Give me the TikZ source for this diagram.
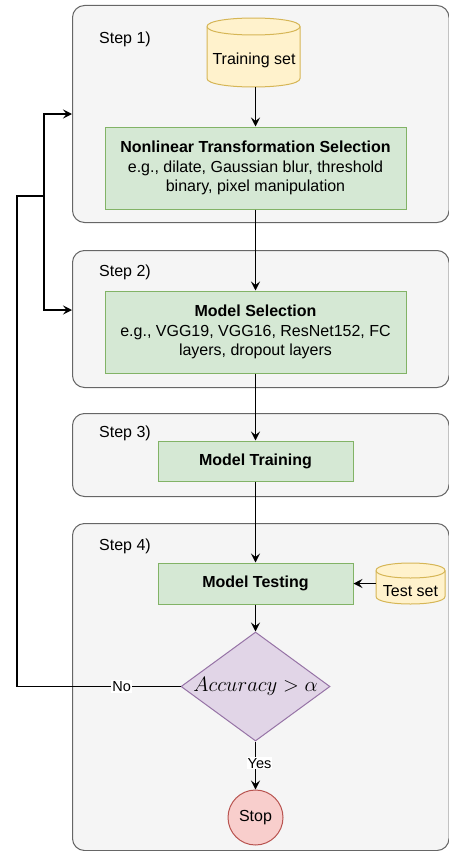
\documentclass[tikz,border=0pt]{standalone}
\usepackage{fontspec}
\setmainfont{Liberation Sans}
\usetikzlibrary{shapes.geometric,arrows.meta}
\definecolor{contfill}{HTML}{F5F5F5}
\definecolor{contdraw}{HTML}{666666}
\definecolor{gfill}{HTML}{D5E8D4}
\definecolor{gdraw}{HTML}{82B366}
\definecolor{yfill}{HTML}{FFF2CC}
\definecolor{ydraw}{HTML}{D6B656}
\definecolor{pfill}{HTML}{E1D5E7}
\definecolor{pdraw}{HTML}{9673A6}
\definecolor{rfill}{HTML}{F8CECC}
\definecolor{rdraw}{HTML}{B85450}
% cylinder: left, top, right, bottom, ry
\newcommand\dbcyl[5]{%
  \path[fill=yfill,draw=ydraw,line width=1pt]
    (#1,{#2+#5}) -- (#1,{#4-#5})
    .. controls (#1,{#4-#5+1.333*#5}) and (#3,{#4-#5+1.333*#5}) .. (#3,{#4-#5})
    -- (#3,{#2+#5})
    .. controls (#3,{#2+#5-1.333*#5}) and (#1,{#2+#5-1.333*#5}) .. (#1,{#2+#5}) -- cycle;
  \draw[ydraw,line width=1pt] (#1,{#2+#5})
    .. controls (#1,{#2+#5+1.333*#5}) and (#3,{#2+#5+1.333*#5}) .. (#3,{#2+#5});
}
\tikzset{
  container/.style={draw=contdraw,fill=contfill,line width=1pt,rounded corners=12pt,inner sep=0pt,anchor=north west},
  gbox/.style={draw=gdraw,fill=gfill,line width=1pt,inner sep=0pt,align=center,font=\fontsize{16}{19.5}\selectfont},
  steplbl/.style={anchor=west,inner sep=0pt,font=\fontsize{16}{19}\selectfont},
  arr/.style={line width=1.3pt,-{Stealth[length=9pt,width=9pt,inset=3.5pt]}},
  edgelbl/.style={fill=white,inner sep=1pt,font=\fontsize{14.5}{16}\selectfont},
}
\begin{document}
\begin{tikzpicture}[x=1pt,y=-1pt]
\useasboundingbox (0,0) rectangle (449,851);
% containers
\node[container,minimum width=376.5pt,minimum height=217pt] (s1) at (72,5) {};
\node[container,minimum width=376.5pt,minimum height=137pt] (s2) at (72,250) {};
\node[container,minimum width=376.5pt,minimum height=83pt] (s3) at (72,413) {};
\node[container,minimum width=376.5pt,minimum height=327pt] (s4) at (72,523) {};
\node[steplbl] (l1) at (99,39) {Step 1)};
\node[steplbl] (l2) at (99,272) {Step 2)};
\node[steplbl] (l3) at (99,433) {Step 3)};
\node[steplbl] (l4) at (99,546) {Step 4)};
% training set cylinder
\dbcyl{207}{18}{300}{87}{8.5}
\node[inner sep=0pt,minimum width=93pt,minimum height=69pt] (train) at (253.5,52.5) {};
\node[font=\fontsize{16}{19}\selectfont,inner sep=0pt] (traint) at (254,60) {Training set};
% test set cylinder
\dbcyl{376}{563}{445}{604}{7.5}
\node[inner sep=0pt,minimum width=69pt,minimum height=41pt] (test) at (410.5,583.5) {};
\node[font=\fontsize{16}{19}\selectfont,inner sep=0pt] (testt) at (410.5,591) {Test set};
% process boxes
\node[gbox,minimum width=301pt,minimum height=82pt] (nl) at (255.5,168) {\textbf{Nonlinear Transformation Selection}\\e.g., dilate, Gaussian blur, threshold\\binary, pixel manipulation};
\node[gbox,minimum width=301pt,minimum height=82pt] (ms) at (255.5,332) {\textbf{Model Selection}\\e.g., VGG19, VGG16, ResNet152, FC\\layers, dropout layers};
\node[gbox,minimum width=195pt,minimum height=40pt] (mt) at (255.5,461) {\textbf{Model Training}};
\node[gbox,minimum width=195pt,minimum height=41pt] (mtest) at (255.5,583.5) {\textbf{Model Testing}};
% decision
\node[diamond,draw=pdraw,fill=pfill,line width=1pt,minimum width=149pt,minimum height=109pt,inner sep=0pt] (dec) at (255.5,686.5) {};
\node[inner sep=0pt,font=\fontsize{19.3}{21}\selectfont] (dect) at (255.5,686) {$Accuracy > \alpha$};
% stop
\node[circle,draw=rdraw,fill=rfill,line width=1pt,minimum size=55pt,inner sep=0pt,font=\fontsize{16}{19}\selectfont] (stop) at (255.5,817.5) {Stop};
% main flow
\draw[arr] (train.south -| nl.north) -- (nl.north);
\draw[arr] (nl.south) -- (ms.north);
\draw[arr] (ms.south) -- (mt.north);
\draw[arr] (mt.south) -- (mtest.north);
\draw[arr] (mtest.south) -- (dec.north);
\draw[arr] (dec.south) -- node[edgelbl,pos=0.45,xshift=4pt] {Yes} (stop.north);
\draw[arr] (test.west) -- (mtest.east);
% feedback
\coordinate (j1) at (17,196);
\coordinate (j2) at (44,196);
\draw[line width=1.3pt] (dec.west) -- node[edgelbl,pos=0.36] {No} (dec.west -| j1) -- (j1) -- (j2);
\draw[arr] (j2) |- (s1.west);
\draw[arr] (j2) |- (s2.west |- 0,310);
\end{tikzpicture}
\end{document}
